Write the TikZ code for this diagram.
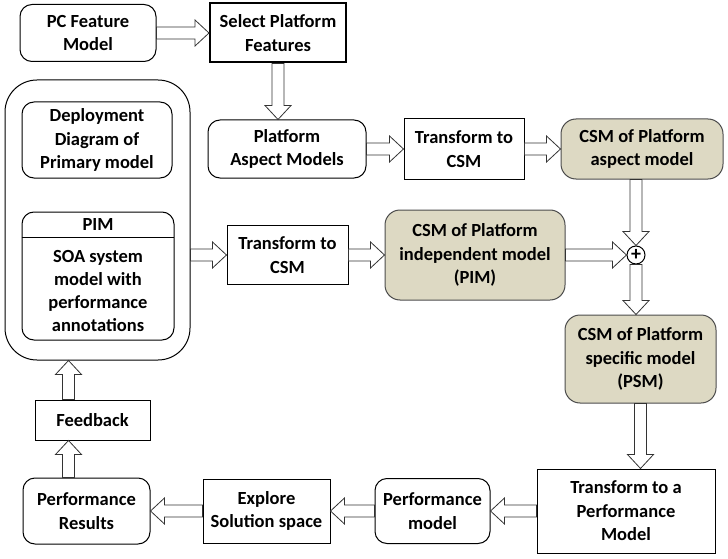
\documentclass[tikz,border=0pt]{standalone}
\usepackage{fontspec}
\setmainfont{Carlito}
\usetikzlibrary{calc}
\definecolor{csmfill}{HTML}{DDD9C3}
% hollow block arrow from #1 to #2
\newcommand{\blkarrow}[2]{%
  \path let \p1=(#1), \p2=(#2), \n1={atan2(\y2-\y1,\x2-\x1)}, \n2={veclen(\x2-\x1,\y2-\y1)} in
    [blkarr,shift={(\p1)},rotate=\n1] (0pt,6pt) -- ({(\n2-14)*1pt},6pt) -- ({(\n2-14)*1pt},13pt)
    -- ({\n2*1pt},0pt) -- ({(\n2-14)*1pt},-13pt) -- ({(\n2-14)*1pt},-6pt) -- (0pt,-6pt) -- cycle;}

\begin{document}
\begin{tikzpicture}[x=1pt,y=-1pt]
\tikzstyle{box}=[draw,line width=1pt,align=center,inner sep=2pt,font=\bfseries\fontsize{18.5}{23.5}\selectfont]
\tikzstyle{rbox}=[box,rounded corners=12pt]
\tikzstyle{csm}=[rbox,fill=csmfill,draw=black!70,rounded corners=15pt]
\tikzstyle{blkarr}=[draw=black!80,fill=white,line width=0.8pt,line join=miter]
\useasboundingbox (0,0) rectangle (728,559);
% top row
\node[rbox,minimum width=136pt,minimum height=57pt] (pcf) at (88,33) {PC Feature\\Model};
\node[box,line width=2pt,rounded corners=0pt,minimum width=136pt,minimum height=59pt] (sel) at (278,33) {Select Platform\\Features};
\node[rbox,minimum width=158pt,minimum height=58pt] (pam) at (287,149) {Platform\\Aspect Models};
\node[box,minimum width=120pt,minimum height=61pt] (tcsma) at (464,149) {Transform to\\CSM};
\node[csm,minimum width=162pt,minimum height=60pt] (csma) at (642,149) {CSM of Platform\\aspect model};
% primary model
\node[rbox,rounded corners=32pt,minimum width=185pt,minimum height=280pt] (cont) at (97.5,220) {};
\node[rbox,minimum width=150pt,minimum height=76pt] (dep) at (97,140) {Deployment\\Diagram of\\Primary model};
\node[rbox,minimum width=152pt,minimum height=128pt] (pim) at (98,276) {};
\node[font=\bfseries\fontsize{18.5}{23.5}\selectfont] (pimtitle) at (98,225) {PIM};
\draw[line width=1pt] (pim.north west) ++(0,26) -- ++(152,0);
\node[align=center,font=\bfseries\fontsize{18.5}{23}\selectfont] (pimbody) at (98,291) {SOA system\\model with\\performance\\annotations};
% middle row
\node[box,minimum width=121pt,minimum height=59pt] (tcsmb) at (287.5,255) {Transform to\\CSM};
\node[csm,minimum width=180pt,minimum height=90pt] (csmp) at (475,255) {CSM of Platform\\independent model\\(PIM)};
\node[circle,draw,line width=1pt,minimum size=18pt,inner sep=0pt,font=\bfseries\fontsize{20}{20}\selectfont] (plus) at (636,255) {+};
\node[csm,minimum width=151pt,minimum height=88pt] (psm) at (640.5,359) {CSM of Platform\\specific model\\(PSM)};
% bottom row
\node[box,minimum width=178pt,minimum height=84pt] (tpm) at (626,511) {Transform to a\\Performance\\Model};
\node[rbox,minimum width=115pt,minimum height=65pt] (pm) at (432.5,511) {Performance\\model};
\node[box,minimum width=127pt,minimum height=64pt] (ess) at (266.5,511) {Explore\\Solution space};
\node[rbox,minimum width=127pt,minimum height=66pt] (pr) at (86.5,511) {Performance\\Results};
\node[box,minimum width=115pt,minimum height=40pt] (fb) at (92.5,420) {Feedback};
\coordinate (prtop) at ([xshift=-18pt]pr.north);
\coordinate (fbtop) at ([xshift=-24pt]fb.north);
% block arrows
\foreach \a/\b in {pcf.east/sel.west,pam.east/tcsma.west,tcsma.east/csma.west,tcsmb.east/csmp.west,
	csmp.east/plus.west,tpm.west/pm.east,pm.west/ess.east,ess.west/pr.east,plus.south/plus |- psm.north,
	sel.south/sel.south |- pam.north,plus |- csma.south/plus.north,psm.south/psm.south |- tpm.north,
	cont.east |- tcsmb.west/tcsmb.west,prtop/prtop |- fb.south,fbtop/fbtop |- cont.south}
	\blkarrow{\a}{\b};
\end{tikzpicture}
\end{document}
